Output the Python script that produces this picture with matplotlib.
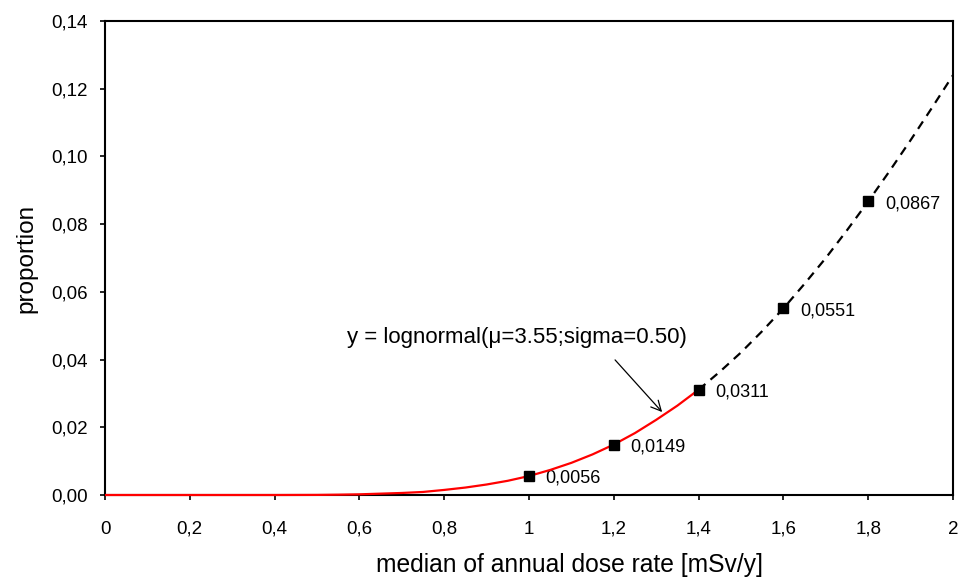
import matplotlib
matplotlib.use("Agg")
import matplotlib.pyplot as plt
from matplotlib.ticker import FuncFormatter, MultipleLocator

plt.rcParams['font.family'] = ['Liberation Sans', 'DejaVu Sans']

# Curve (x step 0.05)
curve_x = [0.0, 0.1, 0.2, 0.3, 0.4, 0.5, 0.55, 0.6, 0.65, 0.7, 0.75, 0.8, 0.85, 0.9, 0.95,
           1.0, 1.05, 1.1, 1.15, 1.2, 1.25, 1.3, 1.35, 1.4, 1.45, 1.5, 1.55, 1.6, 1.65,
           1.7, 1.75, 1.8, 1.85, 1.9, 1.95, 2.0]
curve_y = [0.0, 0.0, 0.0, 0.0, 0.0, 0.00003, 0.0001, 0.0002, 0.0004, 0.0006, 0.0009, 0.0015,
           0.0022, 0.0031, 0.0042, 0.0056, 0.0074, 0.0095, 0.0120, 0.0149, 0.0183, 0.0222,
           0.0264, 0.0311, 0.0364, 0.0421, 0.0484, 0.0551, 0.0624, 0.0700, 0.0782, 0.0867,
           0.0956, 0.1048, 0.1143, 0.1240]
split_x = 1.4

point_x = [1.0, 1.2, 1.4, 1.6, 1.8]
point_y = [0.0056, 0.0149, 0.0311, 0.0551, 0.0867]
point_labels = ["0,0056", "0,0149", "0,0311", "0,0551", "0,0867"]

annotation_text = "y = lognormal(\u03bc=3.55;sigma=0.50)"
xlabel = "median of annual dose rate [mSv/y]"
ylabel = "proportion"

fig = plt.figure(figsize=(9.63, 5.78), dpi=100)
ax = fig.add_axes([105/963, 1-495/578, (953-105)/963, (495-21)/578])

solid_x = [x for x in curve_x if x <= split_x]
solid_y = [y for x, y in zip(curve_x, curve_y) if x <= split_x]
dash_x = [x for x in curve_x if x >= split_x]
dash_y = [y for x, y in zip(curve_x, curve_y) if x >= split_x]

ax.plot(solid_x, solid_y, color='#ff0000', lw=1.6, zorder=4, clip_on=False, solid_capstyle='butt')
ax.plot(dash_x, dash_y, color='black', lw=1.6, dashes=(4, 3), zorder=3)
ax.plot(point_x, point_y, 's', color='black', ms=6.5, zorder=5, clip_on=False)
for x, y, lab in zip(point_x, point_y, point_labels):
    ax.annotate(lab, (x, y), xytext=(12, -1.5), textcoords='offset points',
                ha='left', va='center', fontsize=13)

ax.text(0.972, 0.0464, annotation_text, ha='center', va='center', fontsize=16)
ax.annotate("", xy=(1.314, 0.0245), xytext=(1.203, 0.0399),
            arrowprops=dict(arrowstyle='->', color='black', lw=0.9, shrinkA=0, shrinkB=0,
                            mutation_scale=18))

ax.set_xlim(0, 2)
ax.set_ylim(0, 0.14)
ax.xaxis.set_major_locator(MultipleLocator(0.2))
ax.yaxis.set_major_locator(MultipleLocator(0.02))

def xfmt(v, pos):
    s = ("%.1f" % v)
    if s.endswith(".0"):
        s = s[:-2]
    return s.replace(".", ",")

def yfmt(v, pos):
    return ("%.2f" % v).replace(".", ",")

ax.xaxis.set_major_formatter(FuncFormatter(xfmt))
ax.yaxis.set_major_formatter(FuncFormatter(yfmt))
ax.tick_params(direction='out', length=3.6, width=1.2, labelsize=13.5, color='black')
ax.tick_params(axis='x', pad=15)
ax.tick_params(axis='y', pad=9)

for sp in ax.spines.values():
    sp.set_linewidth(1.5)
    sp.set_color('black')

ax.set_xlabel(xlabel, fontsize=17.7, labelpad=11)
ax.xaxis.label.set_x((570 - 105) / 848)
ax.set_ylabel(ylabel, fontsize=17.5, labelpad=10)

fig.savefig("out.png", dpi=100)
